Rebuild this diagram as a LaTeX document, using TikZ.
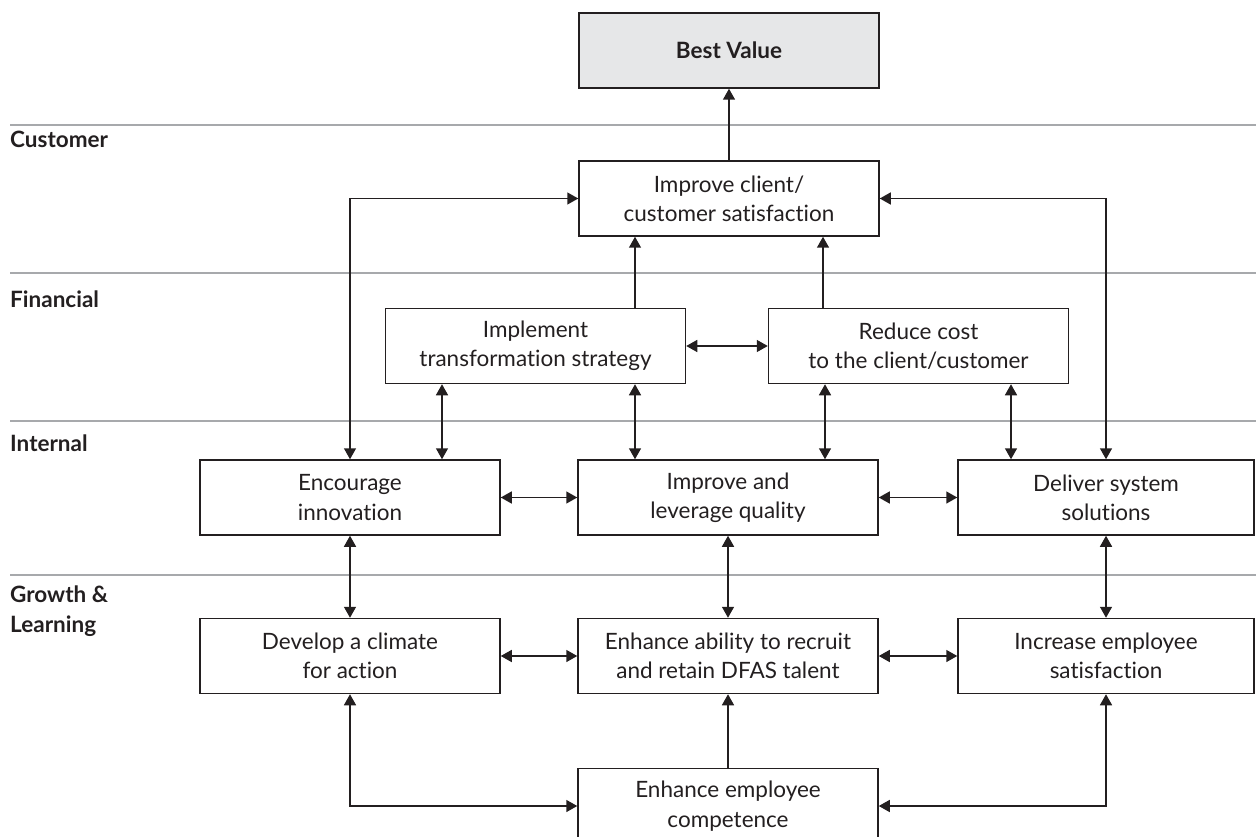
\documentclass[tikz,border=0pt]{standalone}
\usepackage{fontspec}
\setmainfont{Lato}[Ligatures=NoCommon]
\usetikzlibrary{arrows.meta}
\definecolor{ink}{HTML}{231F20}
\definecolor{rulegray}{HTML}{A7A9AC}
\definecolor{goalfill}{HTML}{E6E7E8}

\begin{document}
\begin{tikzpicture}[x=1pt,y=-1pt,
  box/.style={draw=ink, line width=1.5pt, minimum width=300pt, minimum height=75pt,
    inner sep=0pt, align=center, text=ink, font=\fontsize{22.5}{29.3}\selectfont},
  lane/.style={anchor=base west, inner sep=0pt, align=left, text=ink,
    font=\fontsize{22.5}{29.3}\selectfont\bfseries},
  band/.style={draw=rulegray, line width=1.5pt},
  link/.style={draw=ink, line width=1.5pt, -{Triangle[length=11pt,width=12pt]}},
  bilink/.style={draw=ink, line width=1.5pt, {Triangle[length=11pt,width=12pt]}-{Triangle[length=11pt,width=12pt]}}]

\useasboundingbox (0,0) rectangle (1256,837);
\clip (0,0) rectangle (1256,837);

% perspective bands
\coordinate (b1w) at (10,125);  \coordinate (b1e) at (1256,125);
\coordinate (b2w) at (10,273);  \coordinate (b2e) at (1256,273);
\coordinate (b3w) at (10,421);  \coordinate (b3e) at (1256,421);
\coordinate (b4w) at (10,575);  \coordinate (b4e) at (1256,575);
\draw[band] (b1w) -- (b1e);
\draw[band] (b2w) -- (b2e);
\draw[band] (b3w) -- (b3e);
\draw[band] (b4w) -- (b4e);

\node[lane] (lcust) at (10,148) {Customer};
\node[lane] (lfin)  at (10,307) {Financial};
\node[lane] (lint)  at (10,451) {Internal};
\node[lane] (lgrow) at (10,632) {Growth \&\\Learning};

% objectives
\node[box, fill=goalfill, font=\fontsize{22.5}{29.3}\selectfont\bfseries] (goal) at (729,50.5) {Best Value};
\node[box] (cust)    at (729,198.5) {Improve client/\\customer satisfaction};
\node[box] (impl)    at (535.5,346) {Implement\\transformation strategy};
\node[box] (cost)    at (918.5,346) {Reduce cost\\to the client/customer};
\node[box] (innov)   at (350,497.5) {Encourage\\innovation};
\node[box] (qual)    at (728,497.5) {Improve and\\leverage quality};
\node[box, minimum width=296pt] (deliv) at (1106,497.5) {Deliver system\\solutions};
\node[box] (climate) at (350,656) {Develop a climate\\for action};
\node[box] (recruit) at (728,656) {Enhance ability to recruit\\and retain DFAS talent};
\node[box, minimum width=296pt] (empsat) at (1106,656) {Increase employee\\satisfaction};
\node[box] (comp)    at (728,806) {Enhance employee\\competence};

% upward links
\draw[link] (cust.north) -- (goal.south);
\draw[link] ([xshift=99.5pt]impl.north) -- ([xshift=99.5pt]impl.north |- cust.south);
\draw[link] ([xshift=-95.5pt]cost.north) -- ([xshift=-95.5pt]cost.north |- cust.south);
\draw[link] (comp.north) -- (recruit.south);

% customer loops
\draw[bilink] (cust.west) -| (innov.north);
\draw[bilink] (cust.east) -| (deliv.north);

% financial row
\draw[bilink] (impl.east) -- (cost.west);
\draw[bilink] ([xshift=-93.5pt]impl.south) -- ([xshift=-93.5pt]impl.south |- innov.north);
\draw[bilink] ([xshift=99.5pt]impl.south) -- ([xshift=99.5pt]impl.south |- qual.north);
\draw[bilink] ([xshift=-93.5pt]cost.south) -- ([xshift=-93.5pt]cost.south |- qual.north);
\draw[bilink] ([xshift=92.5pt]cost.south) -- ([xshift=92.5pt]cost.south |- deliv.north);

% internal row
\draw[bilink] (innov.east) -- (qual.west);
\draw[bilink] (qual.east) -- (deliv.west);
\draw[bilink] (innov.south) -- (climate.north);
\draw[bilink] (qual.south) -- (recruit.north);
\draw[bilink] (deliv.south) -- (empsat.north);

% growth row
\draw[bilink] (climate.east) -- (recruit.west);
\draw[bilink] (recruit.east) -- (empsat.west);
\draw[bilink] (climate.south) |- (comp.west);
\draw[bilink] (empsat.south) |- (comp.east);
\end{tikzpicture}
\end{document}
